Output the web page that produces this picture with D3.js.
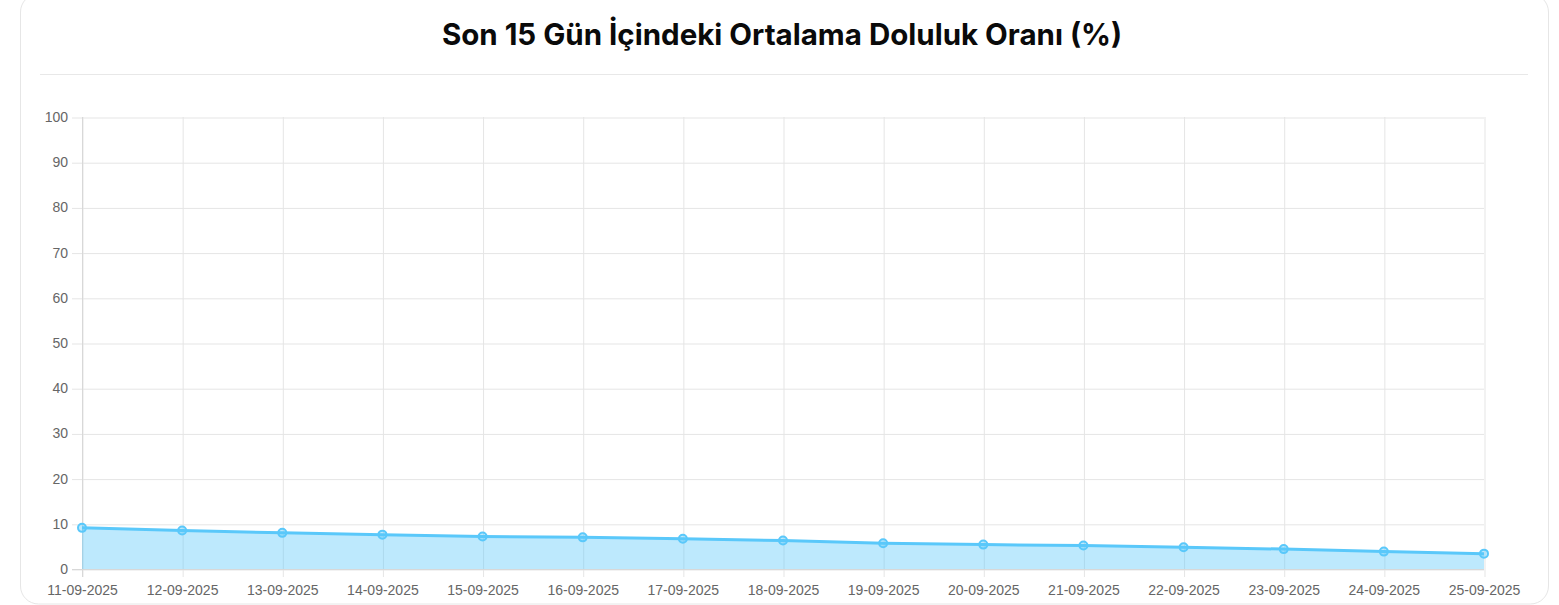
<!DOCTYPE html>
<html>
<head>
<meta charset="utf-8">
<script src="https://cdn.jsdelivr.net/npm/d3@7"></script>
<style>
  html, body { margin: 0; padding: 0; background: #fff; overflow: hidden; }
  svg { display: block; }
</style>
</head>
<body>
<svg id="chart" width="1559" height="605"></svg>
<script>
const title = "Son 15 Gün İçindeki Ortalama Doluluk Oranı (%)";
const dates = ["11-09-2025", "12-09-2025", "13-09-2025", "14-09-2025", "15-09-2025",
    "16-09-2025", "17-09-2025", "18-09-2025", "19-09-2025", "20-09-2025",
    "21-09-2025", "22-09-2025", "23-09-2025", "24-09-2025", "25-09-2025"];
const occupancy = [9.1, 8.5, 8.0, 7.6, 7.2, 7.0, 6.7, 6.3, 5.7, 5.4, 5.2, 4.8, 4.4, 3.85, 3.4];
const yTicks = [0, 10, 20, 30, 40, 50, 60, 70, 80, 90, 100];

const svg = d3.select("#chart");

const lineColor = "rgb(90,200,250)";
const fillColor = "rgba(90,200,250,0.4)";
const tickFont = "'Liberation Sans', Arial, sans-serif";

// card
svg.append("rect")
    .attr("x", 20.5).attr("y", -6)
    .attr("width", 1528).attr("height", 610)
    .attr("rx", 18).attr("ry", 18)
    .attr("fill", "#fff")
    .attr("stroke", "#e6e6e6");

// title + separator
svg.append("text")
    .attr("x", 782).attr("y", 44.5)
    .attr("text-anchor", "middle")
    .attr("font-family", "Inter, 'Noto Sans', sans-serif")
    .attr("font-weight", 700)
    .attr("font-size", 29.5)
    .attr("fill", "#0a0a0a")
    .text(title);

svg.append("line")
    .attr("x1", 40).attr("x2", 1528)
    .attr("y1", 74.5).attr("y2", 74.5)
    .attr("stroke", "#e8e8e8");

const margin = { left: 82, right: 1484, top: 117, bottom: 569 };

const x = d3.scalePoint().domain(dates).range([margin.left, margin.right]);
const y = d3.scaleLinear().domain([0, 100]).range([margin.bottom, margin.top]);

const g = svg.append("g");

// vertical grid
g.append("g")
    .attr("transform", `translate(0,${margin.bottom})`)
    .call(d3.axisBottom(x).tickSize(-(margin.bottom - margin.top) - 8).tickFormat(""))
    .call(a => a.select(".domain").remove())
    .call(a => a.selectAll("line").attr("stroke", "#e5e5e5").attr("transform", "translate(0,8)").attr("x1", 0.5).attr("x2", 0.5));

// horizontal grid + y labels
g.append("g")
    .attr("transform", `translate(${margin.left - 10},0)`)
    .call(d3.axisLeft(y).tickValues(yTicks).tickSize(-(margin.right - margin.left) - 10).tickPadding(4))
    .call(a => a.select(".domain").remove())
    .call(a => a.selectAll("line").attr("stroke", "#e5e5e5").attr("y1", 0.5).attr("y2", 0.5))
    .call(a => a.selectAll("text")
        .attr("font-family", tickFont)
        .attr("font-size", 14)
        .attr("fill", "#666"));

// x labels
g.append("g")
    .attr("transform", `translate(0,${margin.bottom})`)
    .call(d3.axisBottom(x).tickSize(0).tickPadding(16))
    .call(a => a.select(".domain").remove())
    .call(a => a.selectAll("text")
        .attr("font-family", tickFont)
        .attr("font-size", 14)
        .attr("fill", "#666"));

// axis borders
g.append("line")
    .attr("x1", margin.left + 0.5).attr("x2", margin.left + 0.5)
    .attr("y1", margin.top).attr("y2", margin.bottom + 8)
    .attr("stroke", "#d8d8d8");
g.append("line")
    .attr("x1", margin.left - 10).attr("x2", margin.right)
    .attr("y1", margin.bottom + 0.5).attr("y2", margin.bottom + 0.5)
    .attr("stroke", "#d8d8d8");

const pts = dates.map((d, i) => ({ date: d, value: occupancy[i] }));

// area fill
g.append("path")
    .datum(pts)
    .attr("fill", fillColor)
    .attr("d", d3.area().x(d => x(d.date)).y0(y(0)).y1(d => y(d.value)));

// line
g.append("path")
    .datum(pts)
    .attr("fill", "none")
    .attr("stroke", lineColor)
    .attr("stroke-width", 3)
    .attr("d", d3.line().x(d => x(d.date)).y(d => y(d.value)));

// points
g.selectAll("circle.pt")
    .data(pts)
    .join("circle")
    .attr("class", "pt")
    .attr("cx", d => x(d.date))
    .attr("cy", d => y(d.value))
    .attr("r", 4)
    .attr("fill", fillColor)
    .attr("stroke", lineColor)
    .attr("stroke-width", 2);
</script>
</body>
</html>
